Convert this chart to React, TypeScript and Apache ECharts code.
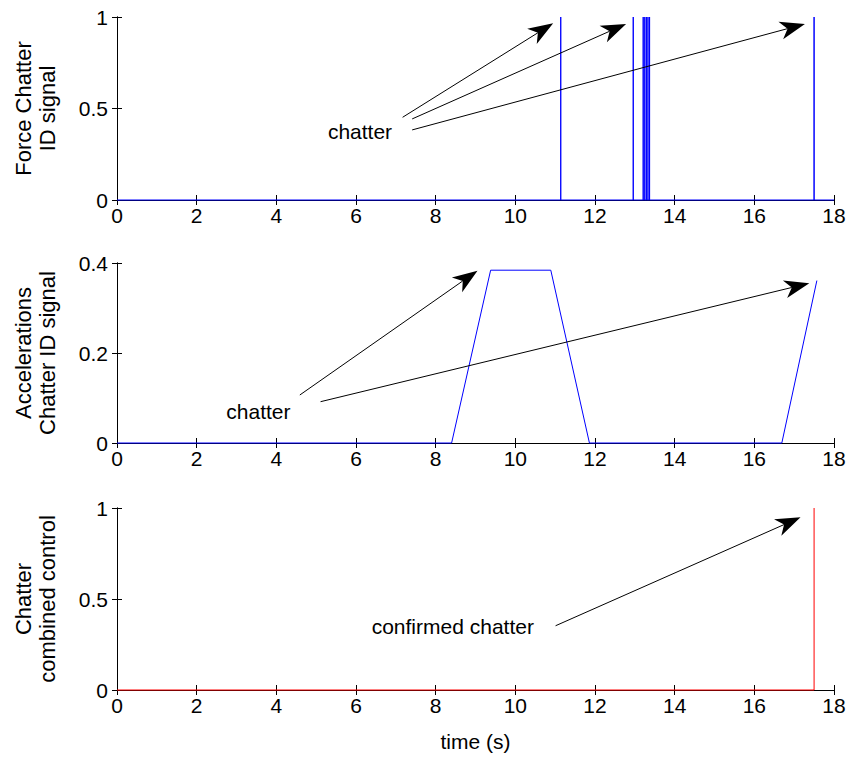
import React, { useEffect, useRef } from "react";
import * as echarts from "echarts";

// ---- data ----
const xTickMin = 0;
const xTickMax = 18;
const xTickStep = 2;

// top panel: force chatter ID signal (0 -> 1 spikes at these times, s)
const forceSpikeTimes = [11.14, 12.96, 13.21, 13.25, 13.29, 13.33, 13.37, 17.5];
const forceEndTime = 18;

// middle panel: accelerations chatter ID signal
const accelTime = [0, 8.4, 9.38, 10.89, 11.86, 16.69, 17.57];
const accelValue = [0, 0, 0.384, 0.384, 0, 0, 0.361];

// bottom panel: chatter combined control
const combinedTime = [0, 17.5, 17.5];
const combinedValue = [0, 0, 1];

// y axis ranges / ticks
const yMaxes = [1, 0.4, 1];
const ySteps = [0.5, 0.2, 0.5];
const yTitles = ["Force Chatter\nID signal", "Accelerations\nChatter ID signal", "Chatter\ncombined control"];
const xTitle = "time (s)";

// annotations (data coordinates, per panel)
const topArrowStarts = [[7.17, 0.452], [7.41, 0.443], [7.41, 0.383]];
const topArrowTips = [[10.95, 0.966], [12.78, 0.962], [17.27, 0.962]];
const topLabel = { text: "chatter", at: [6.1, 0.372] };

const midArrowStarts = [[4.59, 0.1067], [5.11, 0.0918]];
const midArrowTips = [[9.05, 0.383], [17.38, 0.355]];
const midLabel = { text: "chatter", at: [3.55, 0.0696] };

const botArrowStarts = [[11.01, 0.353]];
const botArrowTips = [[17.16, 0.949]];
const botLabel = { text: "confirmed chatter", at: [8.43, 0.348] };

const FONT = "'Liberation Sans', Arial, Helvetica, sans-serif";

export default function App() {
  const ref = useRef<HTMLDivElement>(null);

  useEffect(() => {
    if (!ref.current) return;
    const chart = echarts.init(ref.current, null, { renderer: "svg" });

    const grids = [
      { left: 117, right: 27, top: 17, height: 183 },
      { left: 117, right: 27, top: 263, height: 180 },
      { left: 117, right: 27, top: 508, height: 182 },
    ];

    const axisLine = { show: true, lineStyle: { color: "#000", width: 1 } };
    const tick = { show: true, inside: true, length: 5, lineStyle: { color: "#000", width: 1 } };

    const xAxes: any[] = [];
    const yAxes: any[] = [];
    grids.forEach((_, i) => {
      xAxes.push({
        type: "value", gridIndex: i, min: xTickMin, max: xTickMax, interval: xTickStep,
        position: "bottom", axisLine, axisTick: tick, splitLine: { show: false },
        axisLabel: { color: "#000", fontFamily: FONT, fontSize: 21, margin: 5 },
      });
      xAxes.push({
        type: "value", gridIndex: i, min: xTickMin, max: xTickMax, interval: xTickStep,
        position: "top", axisLine, axisTick: tick, splitLine: { show: false },
        axisLabel: { show: false },
      });
      yAxes.push({
        type: "value", gridIndex: i, min: 0, max: yMaxes[i], interval: ySteps[i],
        position: "left", axisLine, axisTick: tick, splitLine: { show: false },
        axisLabel: { color: "#000", fontFamily: FONT, fontSize: 21, margin: 9 },
      });
      yAxes.push({
        type: "value", gridIndex: i, min: 0, max: yMaxes[i], interval: ySteps[i],
        position: "right", axisLine, axisTick: tick, splitLine: { show: false },
        axisLabel: { show: false },
      });
    });

    const forceData: number[][] = [[0, 0]];
    forceSpikeTimes.forEach((t) => {
      forceData.push([t, 0], [t, 1], [t, 0]);
    });
    forceData.push([forceEndTime, 0]);

    const accelData = accelTime.map((t, i) => [t, accelValue[i]]);
    const combinedData = combinedTime.map((t, i) => [t, combinedValue[i]]);

    const lineSeries = (data: number[][], idx: number, color: string) => ({
      type: "line",
      xAxisIndex: idx * 2,
      yAxisIndex: idx * 2,
      data,
      showSymbol: false,
      symbol: "none",
      clip: false,
      lineStyle: { color, width: 1 },
      z: 5,
    });

    chart.setOption({
      animation: false,
      backgroundColor: "#fff",
      grid: grids,
      xAxis: xAxes,
      yAxis: yAxes,
      series: [
        lineSeries(forceData, 0, "#0000ff"),
        lineSeries(accelData, 1, "#0000ff"),
        lineSeries(combinedData, 2, "#ff0000"),
      ],
    });

    const graphics: any[] = [];
    const L = 25, W = 9, N = 18;
    const addArrow = (gi: number, s: number[], t: number[]) => {
      const p0 = chart.convertToPixel({ gridIndex: gi }, s) as number[];
      const p1 = chart.convertToPixel({ gridIndex: gi }, t) as number[];
      const dx = p1[0] - p0[0], dy = p1[1] - p0[1];
      const len = Math.hypot(dx, dy);
      const ux = dx / len, uy = dy / len;
      const nx = -uy, ny = ux;
      const notch = [p1[0] - N * ux, p1[1] - N * uy];
      graphics.push({
        type: "line", z: 10,
        shape: { x1: p0[0], y1: p0[1], x2: notch[0], y2: notch[1] },
        style: { stroke: "#000", lineWidth: 1 },
      });
      graphics.push({
        type: "polygon", z: 10,
        shape: {
          points: [
            [p1[0], p1[1]],
            [p1[0] - L * ux + W * nx, p1[1] - L * uy + W * ny],
            notch,
            [p1[0] - L * ux - W * nx, p1[1] - L * uy - W * ny],
          ],
        },
        style: { fill: "#000" },
      });
    };
    const addLabel = (gi: number, lab: { text: string; at: number[] }) => {
      const p = chart.convertToPixel({ gridIndex: gi }, lab.at) as number[];
      graphics.push({
        type: "text", z: 10, x: p[0], y: p[1],
        style: { text: lab.text, fill: "#000", font: `21px ${FONT}`, align: "center", verticalAlign: "middle" },
      });
    };

    topArrowStarts.forEach((s, i) => addArrow(0, s, topArrowTips[i]));
    midArrowStarts.forEach((s, i) => addArrow(1, s, midArrowTips[i]));
    botArrowStarts.forEach((s, i) => addArrow(2, s, botArrowTips[i]));
    addLabel(0, topLabel);
    addLabel(1, midLabel);
    addLabel(2, botLabel);

    grids.forEach((g, i) => {
      graphics.push({
        type: "text", z: 10, x: 35, y: g.top + g.height / 2, rotation: Math.PI / 2,
        style: {
          text: yTitles[i], fill: "#000", font: `22px ${FONT}`, lineHeight: 24,
          align: "center", verticalAlign: "middle",
        },
      });
    });
    const last = grids[2];
    graphics.push({
      type: "text", z: 10, x: last.left + (861 - last.left - last.right) / 2, y: 741,
      style: { text: xTitle, fill: "#000", font: `21px ${FONT}`, align: "center", verticalAlign: "middle" },
    });

    chart.setOption({ graphic: graphics });

    return () => chart.dispose();
  }, []);

  return (
    <div
      ref={ref}
      style={{ position: "absolute", left: 0, top: 0, width: 861, height: 758, background: "#fff" }}
    />
  );
}
